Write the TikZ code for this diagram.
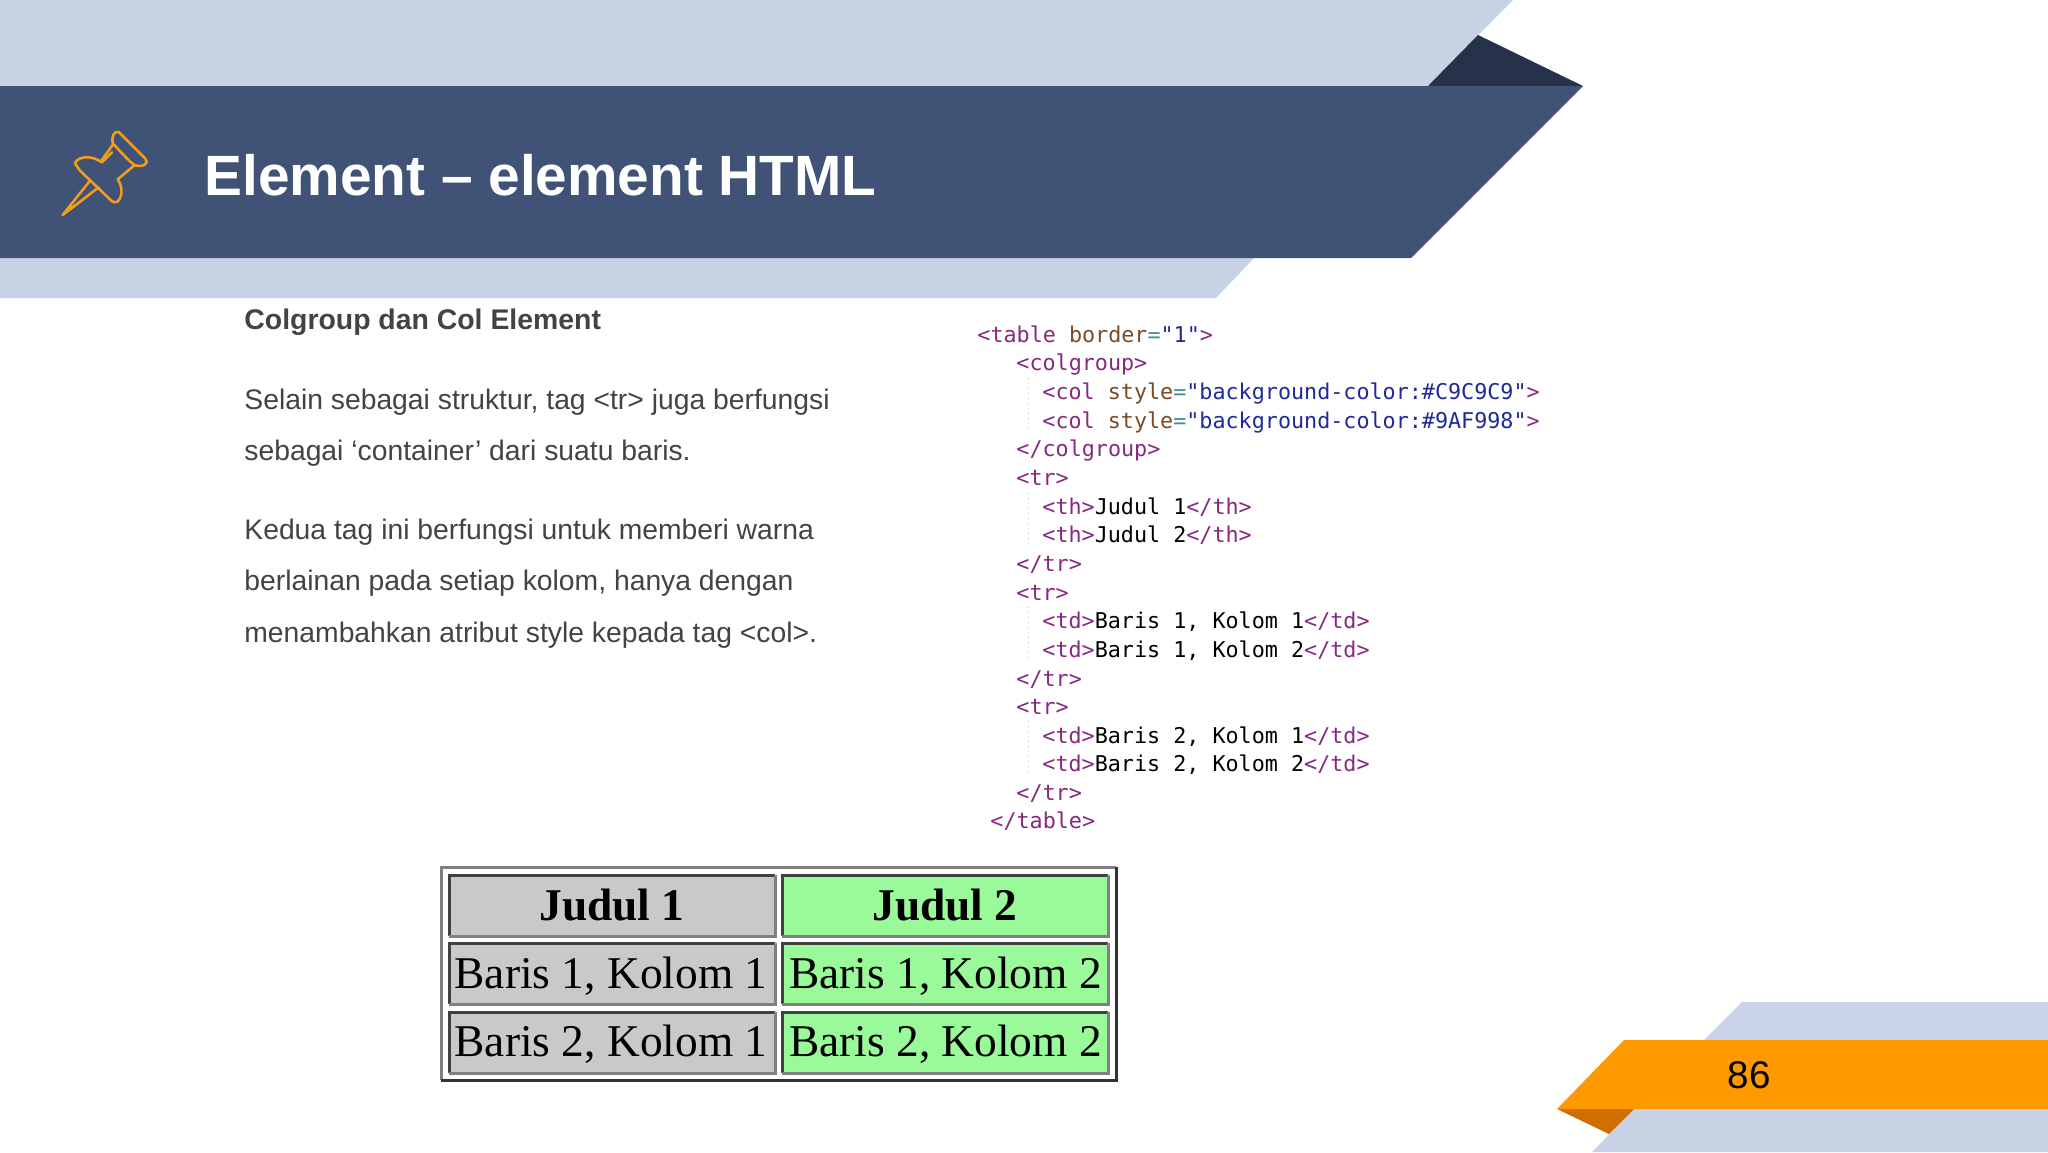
\documentclass[tikz,border=0pt]{standalone}
\usepackage{fontspec}
\setmainfont{Liberation Sans}
\newfontfamily\cellfont{Liberation Serif}
\newfontfamily\codefont{DejaVu Sans Mono}
\definecolor{bandlight}{HTML}{C7D3E4}
\definecolor{bandfoot}{HTML}{C9D3E9}
\definecolor{banddark}{HTML}{405376}
\definecolor{foldblue}{HTML}{26324A}
\definecolor{pinorange}{HTML}{F29C1F}
\definecolor{pageorange}{HTML}{FF9900}
\definecolor{foldorange}{HTML}{D06F00}
\definecolor{bodygray}{HTML}{434343}
\definecolor{cellgray}{HTML}{C9C9C9}
\definecolor{cellgreen}{HTML}{9AF998}
\definecolor{tagpurple}{HTML}{862A80}
\definecolor{attrbrown}{HTML}{7D4A22}
\definecolor{valblue}{HTML}{1F2A96}
\definecolor{eqteal}{HTML}{3F8F8F}
\newcommand{\tg}[1]{\textcolor{tagpurple}{#1}}
\newcommand{\atr}[1]{\textcolor{attrbrown}{#1}}
\newcommand{\vl}[1]{\textcolor{valblue}{#1}}
\newcommand{\eq}{\textcolor{eqteal}{=}}
\begin{document}
\begin{tikzpicture}[x=0.5pt, y=-0.5pt,
    body/.style={anchor=base west, inner sep=0pt, text=bodygray, font=\fontsize{14.15}{17}\selectfont},
    code/.style={anchor=base west, inner sep=0pt, font=\codefont\fontsize{10.87}{13}\selectfont},
    guide/.style={draw=black!25, line width=0.5pt, dotted},
    cell/.style={anchor=base, inner sep=0pt, font=\cellfont\fontsize{22.7}{26}\selectfont}]
  %slide frame
    \useasboundingbox (0,0) rectangle (2048,1152);
    \fill[white] (0,0) rectangle (2048,1152);
    \fill[bandlight] (0,0) -- (1513,0) -- (1428,86) -- (0,86) -- cycle;
    \fill[foldblue] (1428,86) -- (1478,35) -- (1583,86) -- cycle;
    \fill[bandlight] (0,258) -- (1254,258) -- (1216,298) -- (0,298) -- cycle;
    \fill[banddark] (0,86) -- (1583,86) -- (1411,258) -- (0,258) -- cycle;
  %pin
    \begin{scope}[shift={(40,110)}, x=0.1667pt, y=-0.1667pt, draw=pinorange, line width=1.3pt, line join=round, line cap=round]
      \draw (218,100) .. controls (214,80) and (222,62) .. (236,66) -- (316,146) .. controls (328,160) and (312,172) .. (285,166) .. controls (262,150) and (240,122) .. (218,100) -- cycle;
      \draw (218,105) -- (182,155) .. controls (160,138) and (115,135) .. (105,160) -- (120,182) -- (212,270) .. controls (228,285) and (240,275) .. (244,250) .. controls (246,232) and (240,218) .. (233,208) -- (283,166);
      \draw (186,157) -- (216,127);
      \draw (150,212) -- (68,315) -- (176,232);
    \end{scope}
    \node[anchor=base west, inner sep=0pt, text=white, font=\bfseries\fontsize{28.4}{34}\selectfont] (title) at (204,195) {Element – element HTML};
  %text on the left
    \node[body, font=\bfseries\fontsize{14.2}{17}\selectfont] (heading) at (244,329) {Colgroup dan Col Element};
    \node[body] (lineA) at (244,409) {Selain sebagai struktur, tag <tr> juga berfungsi};
    \node[body] (lineB) at (244,460) {sebagai ‘container’ dari suatu baris.};
    \node[body] (lineC) at (244,539) {Kedua tag ini berfungsi untuk memberi warna};
    \node[body] (lineD) at (244,590) {berlainan pada setiap kolom, hanya dengan};
    \node[body] (lineE) at (244,642) {menambahkan atribut style kepada tag <col>.};
  %code
    \draw[guide] (1028,378) -- (1028,432);
    \draw[guide] (1028,493) -- (1028,547);
    \draw[guide] (1028,607) -- (1028,660);
    \draw[guide] (1028,721) -- (1028,775);
    \node[code] (c1) at (977,342) {\tg{<table} \atr{border}\eq\vl{"1"}\tg{>}};
    \node[code] (c2) at (1016,370.6) {\tg{<colgroup>}};
    \node[code] (c3) at (1042,399.3) {\tg{<col} \atr{style}\eq\vl{"background-color:\#C9C9C9"}\tg{>}};
    \node[code] (c4) at (1042,428) {\tg{<col} \atr{style}\eq\vl{"background-color:\#9AF998"}\tg{>}};
    \node[code] (c5) at (1016,456.6) {\tg{</colgroup>}};
    \node[code] (c6) at (1016,485.3) {\tg{<tr>}};
    \node[code] (c7) at (1042,514.3) {\tg{<th>}Judul 1\tg{</th>}};
    \node[code] (c8) at (1042,542.6) {\tg{<th>}Judul 2\tg{</th>}};
    \node[code] (c9) at (1016,571.2) {\tg{</tr>}};
    \node[code] (c10) at (1016,600.3) {\tg{<tr>}};
    \node[code] (c11) at (1042,628.5) {\tg{<td>}Baris 1, Kolom 1\tg{</td>}};
    \node[code] (c12) at (1042,657.2) {\tg{<td>}Baris 1, Kolom 2\tg{</td>}};
    \node[code] (c13) at (1016,686.2) {\tg{</tr>}};
    \node[code] (c14) at (1016,714.5) {\tg{<tr>}};
    \node[code] (c15) at (1042,743.1) {\tg{<td>}Baris 2, Kolom 1\tg{</td>}};
    \node[code] (c16) at (1042,771.8) {\tg{<td>}Baris 2, Kolom 2\tg{</td>}};
    \node[code] (c17) at (1016,800.4) {\tg{</tr>}};
    \node[code] (c18) at (990,828.6) {\tg{</table>}};
  %rendered table
    \def\bw{1.5pt}
    \draw[line width=\bw, draw=black!50] (441,1080) -- (441,867) -- (1116,867);
    \draw[line width=\bw, draw=black!80] (441,1080) -- (1116,1080) -- (1116,867);
    \foreach \xa/\xb/\col in {449/775/cellgray, 782/1108/cellgreen}
      \foreach \ya/\yb in {875/936, 943/1004, 1012/1073} {
        \fill[\col] (\xa,\ya) rectangle (\xb,\yb);
        \draw[line width=\bw, draw=black!75] (\xa,\yb) -- (\xa,\ya) -- (\xb,\ya);
        \draw[line width=\bw, draw=black!50] (\xa,\yb) -- (\xb,\yb) -- (\xb,\ya);
      }
    \node[cell, font=\cellfont\bfseries\fontsize{22.7}{26}\selectfont] (h1) at (612,920) {Judul 1};
    \node[cell, font=\cellfont\bfseries\fontsize{22.7}{26}\selectfont] (h2) at (945,920) {Judul 2};
    \node[cell] (b11) at (611,988) {Baris 1, Kolom 1};
    \node[cell] (b12) at (945.5,988) {Baris 1, Kolom 2};
    \node[cell] (b21) at (611,1056) {Baris 2, Kolom 1};
    \node[cell] (b22) at (945.5,1056) {Baris 2, Kolom 2};
  %page number
    \fill[bandfoot] (1742,1002) -- (2048,1002) -- (2048,1040) -- (1704,1040) -- cycle;
    \fill[bandlight] (1634,1109) -- (2048,1109) -- (2048,1152) -- (1592,1152) -- cycle;
    \fill[foldorange] (1557,1109) -- (1634,1109) -- (1609,1134) -- cycle;
    \fill[pageorange] (1624,1040) -- (2048,1040) -- (2048,1109) -- (1557,1109) -- cycle;
    \node[anchor=base, inner sep=0pt, text=black, font=\fontsize{19.3}{23}\selectfont] (page) at (1749,1088) {86};
  \end{tikzpicture}
\end{document}
